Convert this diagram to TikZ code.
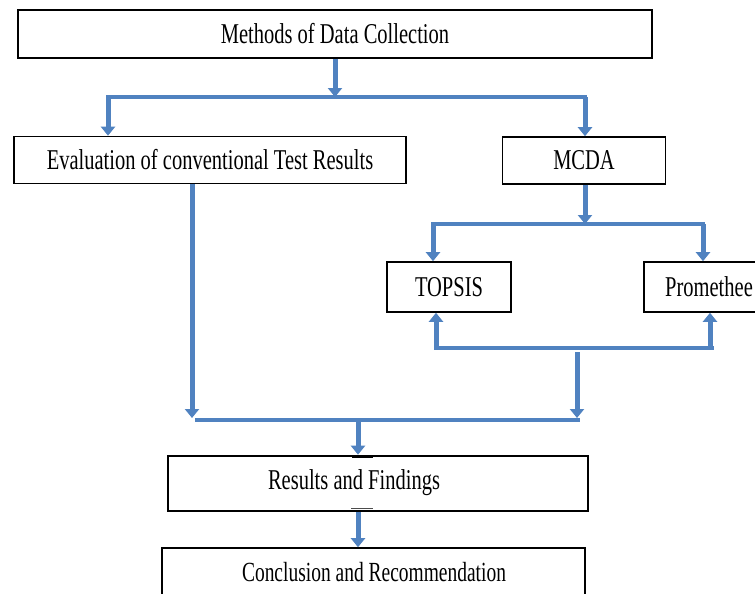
\documentclass[tikz,border=0pt]{standalone}
\usepackage{graphicx}
\usepackage{fontspec}
\setmainfont{Liberation Serif}
\usetikzlibrary{arrows.meta,calc}

\definecolor{flowblue}{RGB}{80,130,192}

% condensed, tall lettering used in every box
\newcommand\tallfont{\fontsize{20.5}{24}\selectfont}
\newcommand\tall[1]{\scalebox{1}[1.4]{#1}}

\tikzset{
  box/.style={draw=black, line width=1.6pt, fill=white, inner sep=0pt,
              font=\tallfont},
  feed/.style={draw=flowblue, line width=5pt,
               -{Triangle[width=14pt,length=9pt]}},
  rail/.style={draw=flowblue, line width=3.5pt},
}

\begin{document}
\begin{tikzpicture}[x=1pt, y=-1pt]
  \useasboundingbox (0,0) rectangle (755,594);
  \clip (0,0) rectangle (755,594);

  % boxes
  \node[box, minimum width=634pt, minimum height=48pt] (methods) at (335,34)
       {\tall{Methods of Data Collection}};
  \node[box, minimum width=392pt, minimum height=47pt] (eval) at (210,160)
       {\tall{Evaluation of conventional Test Results}};
  \node[box, minimum width=163pt, minimum height=47pt] (mcda) at (584,160.5)
       {\tall{MCDA}};
  \node[box, minimum width=124pt, minimum height=50pt] (topsis) at (449,287)
       {\tall{TOPSIS}};
  \node[box, minimum width=130pt, minimum height=50pt] (prom) at (709,287)
       {\tall{Promethee}};
  \node[box, line width=2.6pt, minimum width=420pt, minimum height=55pt] (results) at (378,483.5)
       {};
  \node[font=\tallfont] (resultstext) at (354,482.5)
       {\tall{Results and Findings}};
  \node[box, minimum width=423pt, minimum height=70pt] (concl) at (373.5,583)
       {};
  \node[font=\tallfont] (concltext) at (374,572)
       {\scalebox{0.95}[1.35]{Conclusion and Recommendation}};

  % junction points
  \coordinate (j1) at (335,97);
  \coordinate (j1l) at (108,97);
  \coordinate (j1r) at (585,97);
  \coordinate (j2) at (585,224);
  \coordinate (j2l) at (433,224);
  \coordinate (j2r) at (703,224);
  \coordinate (j3l) at (436,348);
  \coordinate (j3r) at (712,348);
  \coordinate (j3m) at (577,349);
  \coordinate (j4l) at (192,420);
  \coordinate (j4r) at (580,420);
  \coordinate (j4m) at (358,420);

  % horizontal rails
  \draw[rail] ($(j1l)+(-2,0)$) -- ($(j1r)+(2,0)$);
  \draw[rail] ($(j2l)+(-2,0)$) -- ($(j2r)+(2,0)$);
  \draw[rail] ($(j3l)+(-2,0)$) -- ($(j3r)+(2,0)$);
  \draw[rail] ($(j4l)+(3,0)$) -- (j4r);

  % arrows
  \draw[feed] (methods.south) -- (j1);
  \draw[feed] (j1l) -- (j1l |- eval.north);
  \draw[feed] (j1r) -- (j1r |- mcda.north);
  \draw[feed] (j2 |- mcda.south) -- (j2);
  \draw[feed] (j2l) -- (j2l |- topsis.north);
  \draw[feed] (j2r) -- (j2r |- prom.north);
  \draw[feed] (j3l) -- (j3l |- topsis.south);
  \draw[feed] ($(j3r)+(-2,0)$) -- ($(j3r |- prom.south)+(-2,0)$);
  \draw[feed] ($(j3m)+(0,3)$) -- ($(j4r)+(-3,-2)$);
  \draw[feed] (j4l |- eval.south) -- ($(j4l)+(0,-2)$);
  \draw[feed] (j4m) -- (j4m |- results.north);
  \draw[feed] (j4m |- results.south) -- (j4m |- concl.north);

  % short dark marks on the results box edges
  \draw[line width=3pt] ($(results.north)+(-26,2)$) -- ++(21,0);
  \draw[line width=1.5pt, black!70] ($(results.south)+(-27,-4)$) -- ++(22,0);
\end{tikzpicture}
\end{document}
